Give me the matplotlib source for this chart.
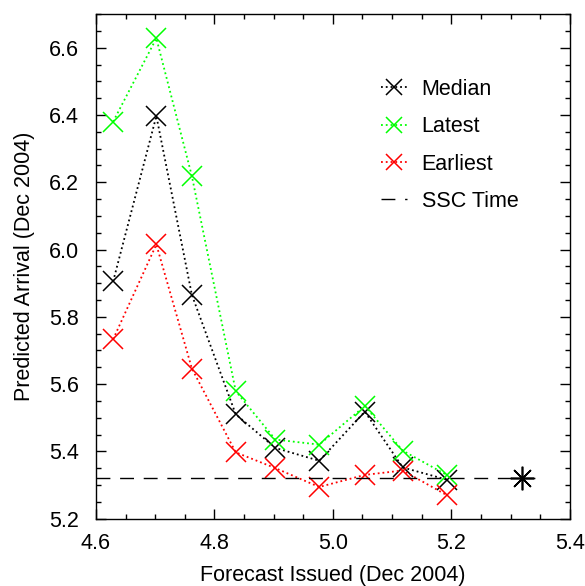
import matplotlib
matplotlib.use("Agg")
import matplotlib.pyplot as plt
from matplotlib.ticker import MultipleLocator

plt.rcParams['font.family'] = ['Liberation Sans', 'DejaVu Sans']

issued = [4.629, 4.702, 4.762, 4.836, 4.903, 4.977, 5.054, 5.118, 5.192]
median = [5.905, 6.397, 5.865, 5.510, 5.410, 5.372, 5.518, 5.352, 5.316]
latest = [6.380, 6.628, 6.218, 5.579, 5.435, 5.420, 5.535, 5.402, 5.330]
earliest = [5.733, 6.015, 5.646, 5.397, 5.350, 5.294, 5.330, 5.343, 5.270]
ssc_time = 5.32

fig = plt.figure(figsize=(5.85, 5.86), dpi=100)
ax = fig.add_axes([0.164, 0.115, 0.81, 0.861])

ms = 14
for vals, col, lab in [(median, 'black', 'Median'), (latest, '#00ff00', 'Latest'), (earliest, '#ff0000', 'Earliest')]:
    ax.plot(issued, vals, linestyle=':', color=col, marker='x', markersize=ms,
            markeredgewidth=1.1, linewidth=1.3, label=lab)

ax.plot([4.6, ssc_time + 0.03], [ssc_time, ssc_time], color='black', linewidth=1.0,
        dashes=(10, 7), label='SSC Time')
ax.plot([ssc_time], [ssc_time], linestyle='none', marker=(8, 2, 0), markersize=17,
        markeredgewidth=1.2, color='black')

ax.set_xlim(4.6, 5.4)
ax.set_ylim(5.2, 6.7)
ax.xaxis.set_major_locator(MultipleLocator(0.2))
ax.xaxis.set_minor_locator(MultipleLocator(0.05))
ax.yaxis.set_major_locator(MultipleLocator(0.2))
ax.yaxis.set_minor_locator(MultipleLocator(0.05))
ax.xaxis.set_major_formatter(matplotlib.ticker.FormatStrFormatter('%.1f'))
ax.yaxis.set_major_formatter(matplotlib.ticker.FormatStrFormatter('%.1f'))
ax.tick_params(which='both', direction='in', top=True, right=True, labelsize=15.5, width=1.0)
ax.tick_params(which='major', length=7)
ax.tick_params(axis='x', which='major', pad=10.5)
ax.tick_params(axis='y', which='major', pad=12.5)
ax.tick_params(which='minor', length=3.6)
for s in ax.spines.values():
    s.set_linewidth(1.0)

ax.set_xlabel('Forecast Issued (Dec 2004)', fontsize=15.5, labelpad=8)
ax.set_ylabel('Predicted Arrival (Dec 2004)', fontsize=15.5, labelpad=10)

leg = ax.legend(loc='upper left', bbox_to_anchor=(0.56, 0.91), frameon=False, fontsize=15.5,
                handlelength=1.2, handletextpad=0.7, labelspacing=0.76, markerscale=0.85)

fig.savefig('out.png', dpi=100)
